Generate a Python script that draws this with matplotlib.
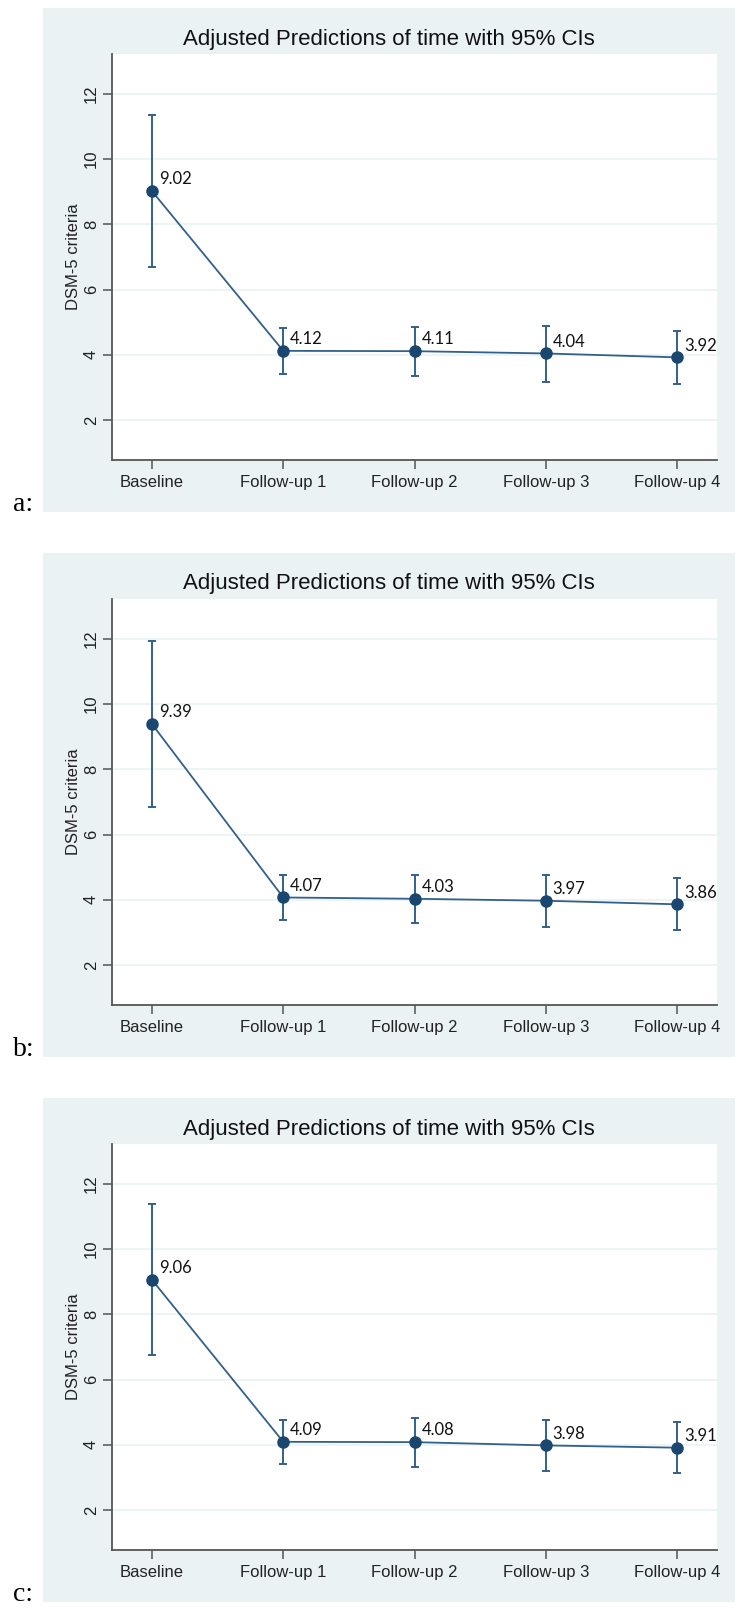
import matplotlib.pyplot as plt
from matplotlib.patches import Rectangle

# time points
labels = ['Baseline', 'Follow-up 1', 'Follow-up 2', 'Follow-up 3', 'Follow-up 4']

# panel a
est_a = [9.02, 4.12, 4.11, 4.04, 3.92]
lo_a = [6.70, 3.42, 3.35, 3.17, 3.10]
hi_a = [11.36, 4.83, 4.86, 4.89, 4.74]

# panel b
est_b = [9.39, 4.07, 4.03, 3.97, 3.86]
lo_b = [6.86, 3.38, 3.28, 3.16, 3.06]
hi_b = [11.95, 4.75, 4.77, 4.77, 4.67]

# panel c
est_c = [9.06, 4.09, 4.08, 3.98, 3.91]
lo_c = [6.74, 3.42, 3.33, 3.20, 3.13]
hi_c = [11.38, 4.75, 4.82, 4.77, 4.70]

W, H = 741, 1611
BG = '#eaf2f3'
NAVY = '#1a476f'
LINE = '#33608a'
AXC = '#555555'

plt.rcParams['font.family'] = ['Liberation Sans', 'DejaVu Sans']

fig = plt.figure(figsize=(W / 100, H / 100), dpi=100)
fig.patch.set_facecolor('white')


def draw_panel(box_top, est, lo, hi, tag):
    # graph region box
    box_bottom = box_top + 504
    fig.patches.append(Rectangle((43 / W, 1 - box_bottom / H), (735 - 43) / W, 504 / H,
                                 transform=fig.transFigure, facecolor=BG,
                                 edgecolor='none', zorder=-5))
    plot_top = box_top + 46
    plot_bottom = plot_top + 406
    ax = fig.add_axes([112 / W, 1 - plot_bottom / H, (717 - 112) / W, 406 / H], zorder=2)
    ax.set_facecolor('white')

    x = list(range(len(labels)))
    err_lo = [e - l for e, l in zip(est, lo)]
    err_hi = [h - e for e, h in zip(est, hi)]
    ax.errorbar(x, est, yerr=[err_lo, err_hi], fmt='none', ecolor=LINE,
                elinewidth=1.4, capsize=2.8, capthick=1.4, zorder=3)
    ax.plot(x, est, color=LINE, lw=1.3, zorder=3)
    ax.plot(x, est, 'o', color=NAVY, markersize=8, zorder=4)
    for xi, v in zip(x, est):
        ax.annotate(f'{v:.2f}', (xi, v), xytext=(5, 8.5), textcoords='offset points',
                    ha='left', va='center', fontsize=12, family=['Lato', 'DejaVu Sans'],
                    color='#111111', zorder=5)

    ax.set_xlim(-0.305, 4.305)
    ax.set_ylim(0.77, 13.23)
    ax.set_yticks([2, 4, 6, 8, 10, 12])
    ax.set_xticks(x)
    ax.set_xticklabels(labels)
    ax.grid(axis='y', color=BG, lw=1.2, zorder=0)
    ax.set_axisbelow(True)
    for s in ['top', 'right']:
        ax.spines[s].set_visible(False)
    for s in ['left', 'bottom']:
        ax.spines[s].set_color(AXC)
        ax.spines[s].set_linewidth(1.3)
    ax.tick_params(axis='x', length=6.5, width=1.1, color=AXC, labelsize=12, pad=4,
                   labelcolor='#222222')
    ax.tick_params(axis='y', length=6.5, width=1.1, color=AXC, labelsize=12, pad=3,
                   labelcolor='#222222', labelrotation=90)
    for t in ax.get_yticklabels():
        t.set_va('center')
    ax.set_ylabel('DSM-5 criteria', fontsize=12, color='#222222')
    ax.yaxis.set_label_coords(-0.051, 0.5)

    fig.text(389 / W, 1 - (plot_top - 15) / H, 'Adjusted Predictions of time with 95% CIs',
             ha='center', va='center', fontsize=16, color='#111111')
    fig.text(13 / W, 1 - (box_bottom - 1) / H, tag, ha='left', va='baseline',
             fontsize=20, family=['Liberation Serif', 'DejaVu Serif'], color='black')
    return ax


draw_panel(8, est_a, lo_a, hi_a, 'a:')
draw_panel(553, est_b, lo_b, hi_b, 'b:')
draw_panel(1098, est_c, lo_c, hi_c, 'c:')

fig.savefig('out.png', dpi=100)
